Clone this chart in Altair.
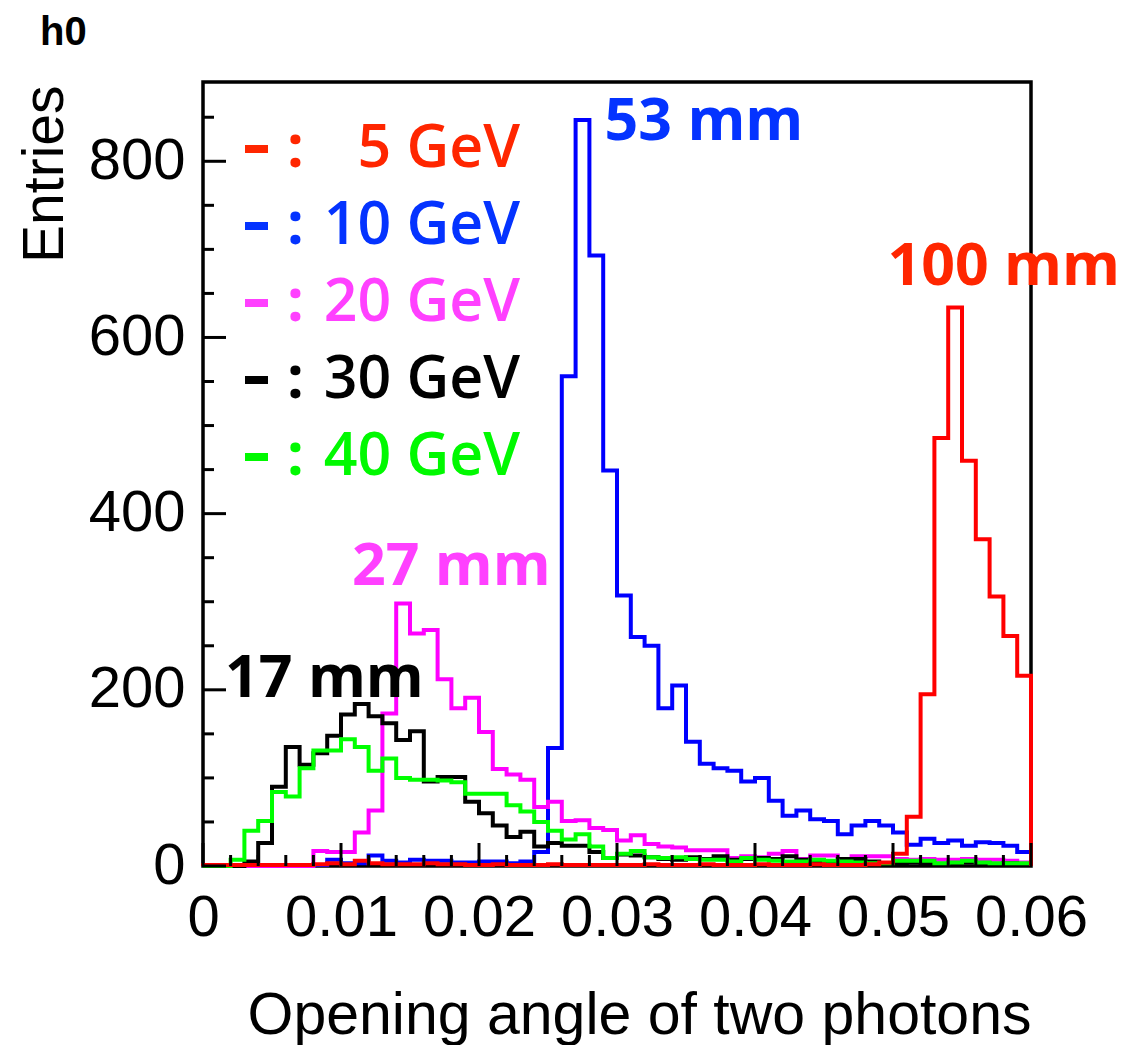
import altair as alt
import pandas as pd

# Histogram binning: 60 bins of width 0.001 rad from 0 to 0.06
bin_width = 0.001
x_max = 0.06
y_max = 890

energies = ["5 GeV", "10 GeV", "20 GeV", "30 GeV", "40 GeV"]
line_colors = ["#ff0000", "#0000ff", "#ff00ff", "#000000", "#00ff00"]
text_colors = ["#ff2600", "#0433ff", "#ff40ff", "#000000", "#00f900"]

counts_5gev = [1, 1, 1, 1, 1, 1, 1, 1, 2, 3,
               2, 6, 3, 2, 2, 2, 3, 2, 2, 1,
               1, 2, 1, 1, 1, 2, 1, 1, 1, 1,
               1, 1, 2, 1, 1, 1, 2, 1, 1, 1,
               2, 1, 1, 1, 2, 1, 1, 1, 2, 4,
               14, 56, 195, 486, 634, 460, 371, 306, 261, 216]

counts_10gev = [0, 0, 0, 0, 0, 0, 0, 0, 1, 7,
                3, 3, 12, 6, 4, 7, 6, 6, 4, 4,
                5, 5, 3, 5, 16, 134, 556, 847, 693, 449,
                307, 260, 250, 179, 205, 141, 116, 111, 108, 96,
                100, 74, 57, 63, 53, 51, 36, 46, 51, 46,
                38, 24, 31, 26, 29, 23, 27, 26, 23, 16]

counts_20gev = [0, 0, 0, 0, 0, 0, 0, 0, 17, 16,
                16, 38, 63, 173, 298, 264, 268, 212, 179, 191,
                152, 110, 104, 98, 67, 73, 51, 52, 43, 41,
                29, 35, 25, 22, 21, 18, 18, 18, 9, 11,
                10, 14, 17, 8, 12, 12, 8, 11, 11, 11,
                8, 7, 8, 7, 7, 8, 7, 7, 6, 4]

counts_30gev = [0, 0, 0, 5, 26, 90, 135, 115, 128, 148,
                172, 184, 170, 162, 143, 153, 96, 101, 101, 73,
                60, 46, 33, 39, 22, 26, 23, 23, 16, 9,
                13, 12, 10, 8, 7, 10, 8, 11, 7, 8,
                9, 8, 11, 7, 5, 5, 8, 8, 5, 3,
                3, 4, 3, 2, 3, 4, 3, 2, 3, 2]

counts_40gev = [0, 0, 7, 40, 51, 84, 79, 111, 131, 131,
                144, 135, 108, 122, 100, 98, 98, 97, 95, 82,
                82, 82, 69, 62, 50, 40, 30, 36, 22, 9,
                14, 17, 10, 9, 10, 8, 7, 7, 5, 9,
                7, 6, 5, 5, 7, 6, 5, 4, 3, 3,
                6, 6, 6, 3, 4, 6, 4, 3, 3, 3]

all_counts = [counts_5gev, counts_10gev, counts_20gev, counts_30gev, counts_40gev]

# Peak annotations: text, anchor angle, anchor count, colour index
peak_labels = ["53 mm", "100 mm", "27 mm", "17 mm"]
peak_x = [0.0291, 0.0496, 0.0108, 0.0016]
peak_y = [824, 659, 319, 192]
peak_color_idx = [1, 0, 2, 3]

y_major = [0, 200, 400, 600, 800]
y_minor = [v for v in range(0, 900, 50) if v % 200 != 0]
x_major = [0.0, 0.01, 0.02, 0.03, 0.04, 0.05, 0.06]
x_minor = [round(0.002 * k, 3) for k in range(1, 30) if k % 5 != 0]

W, H = 828, 784
FONT = "Liberation Sans"
LABEL_FONT = "Open Sans"

xscale = alt.Scale(domain=[0, x_max], nice=False, zero=False)
yscale = alt.Scale(domain=[0, y_max], nice=False, zero=False)

xaxis = alt.Axis(
    values=x_major,
    labelExpr="datum.value == 0 ? '0' : format(datum.value, '.2f')",
    ticks=False, domain=False, grid=False, tickSize=0,
    labelFont=FONT, labelFontSize=58, labelColor="black",
    labelBaseline="alphabetic", labelPadding=69,
    labelFlush=False, labelOverlap=False,
    title="Opening angle of two photons",
    titleFont=FONT, titleFontSize=59, titleFontWeight="normal", titleColor="black",
    titleAlign="right", titleBaseline="alphabetic", titleX=W, titleY=167,
)
yaxis = alt.Axis(
    values=y_major,
    ticks=False, domain=False, grid=False, tickSize=0,
    labelFont=FONT, labelFontSize=58, labelColor="black",
    labelBaseline="middle", labelPadding=18,
    labelFlush=False, labelOverlap=False,
    title="Entries",
    titleFont=FONT, titleFontSize=57, titleFontWeight="normal", titleColor="black",
    titleAngle=270, titleAlign="right", titleBaseline="alphabetic",
    titleX=-141, titleY=3,
)


def outline(counts):
    """Closed step outline of a histogram, as ROOT draws it."""
    rows = [(0.0, 0)]
    for i, c in enumerate(counts):
        lo = round(i * bin_width, 6)
        hi = round((i + 1) * bin_width, 6)
        rows.append((lo, c))
        rows.append((hi, c))
    rows.append((x_max, 0))
    return pd.DataFrame({"x": [r[0] for r in rows], "y": [r[1] for r in rows],
                         "order": list(range(len(rows)))})


layers = []

# Histograms, drawn so that the 5 GeV curve ends up on top
for idx in [1, 2, 3, 4, 0]:
    df = outline(all_counts[idx])
    layers.append(
        alt.Chart(df).mark_line(color=line_colors[idx], strokeWidth=4,
                                strokeJoin="miter", strokeCap="butt")
        .encode(x=alt.X("x:Q", scale=xscale, axis=xaxis),
                y=alt.Y("y:Q", scale=yscale, axis=yaxis),
                order="order:Q")
    )

# Inward tick marks
layers.append(
    alt.Chart(pd.DataFrame({"v": y_major})).mark_rule(color="black", strokeWidth=3)
    .encode(y=alt.Y("v:Q", scale=yscale, axis=yaxis), x=alt.value(0), x2=alt.value(23))
)
layers.append(
    alt.Chart(pd.DataFrame({"v": y_minor})).mark_rule(color="black", strokeWidth=3)
    .encode(y=alt.Y("v:Q", scale=yscale, axis=yaxis), x=alt.value(0), x2=alt.value(11))
)
layers.append(
    alt.Chart(pd.DataFrame({"v": x_major})).mark_rule(color="black", strokeWidth=3)
    .encode(x=alt.X("v:Q", scale=xscale, axis=xaxis), y=alt.value(H), y2=alt.value(H - 23))
)
layers.append(
    alt.Chart(pd.DataFrame({"v": x_minor})).mark_rule(color="black", strokeWidth=3)
    .encode(x=alt.X("v:Q", scale=xscale, axis=xaxis), y=alt.value(H), y2=alt.value(H - 11))
)

# Peak separation labels
ann = pd.DataFrame({
    "label": peak_labels,
    "x": peak_x,
    "y": peak_y,
    "color": [text_colors[i] for i in peak_color_idx],
})
layers.append(
    alt.Chart(ann).mark_text(align="left", baseline="alphabetic", font=LABEL_FONT,
                             fontSize=59, fontWeight="bold")
    .encode(x=alt.X("x:Q", scale=xscale, axis=xaxis),
            y=alt.Y("y:Q", scale=yscale, axis=yaxis),
            text="label:N",
            color=alt.Color("color:N", scale=None))
)

# Energy key in the upper-left corner: dash symbol, colon, energy
for i, (name, col) in enumerate(zip(energies, text_colors)):
    base = 85 + 77 * i
    row = pd.DataFrame({"colon": [":"], "name": [name]})
    layers.append(
        alt.Chart(row).mark_rule(color=col, strokeWidth=8)
        .encode(x=alt.value(42), x2=alt.value(65),
                y=alt.value(base - 18), y2=alt.value(base - 18))
    )
    layers.append(
        alt.Chart(row).mark_text(align="left", baseline="alphabetic", font=LABEL_FONT,
                                 fontSize=59, fontWeight="bold", color=col,
                                 x=84, y=base)
        .encode(text="colon:N")
    )
    layers.append(
        alt.Chart(row).mark_text(align="right", baseline="alphabetic", font=LABEL_FONT,
                                 fontSize=59, fontWeight=600, color=col,
                                 x=317, y=base)
        .encode(text="name:N")
    )

# Histogram name
layers.append(
    alt.Chart(pd.DataFrame({"t": ["h0"]})).mark_text(
        align="left", baseline="alphabetic", font=FONT, fontSize=40,
        fontWeight="bold", color="black", x=-163, y=-37)
    .encode(text="t:N")
)

chart = alt.layer(*layers).properties(
    width=W, height=H,
    autosize=alt.AutoSizeParams(type="none"),
    padding={"left": 203, "top": 82, "right": 98, "bottom": 179},
    background="white",
).configure_view(stroke="black", strokeWidth=3.5)

chart.save("out.html", embed_options={"renderer": "svg", "actions": False})
